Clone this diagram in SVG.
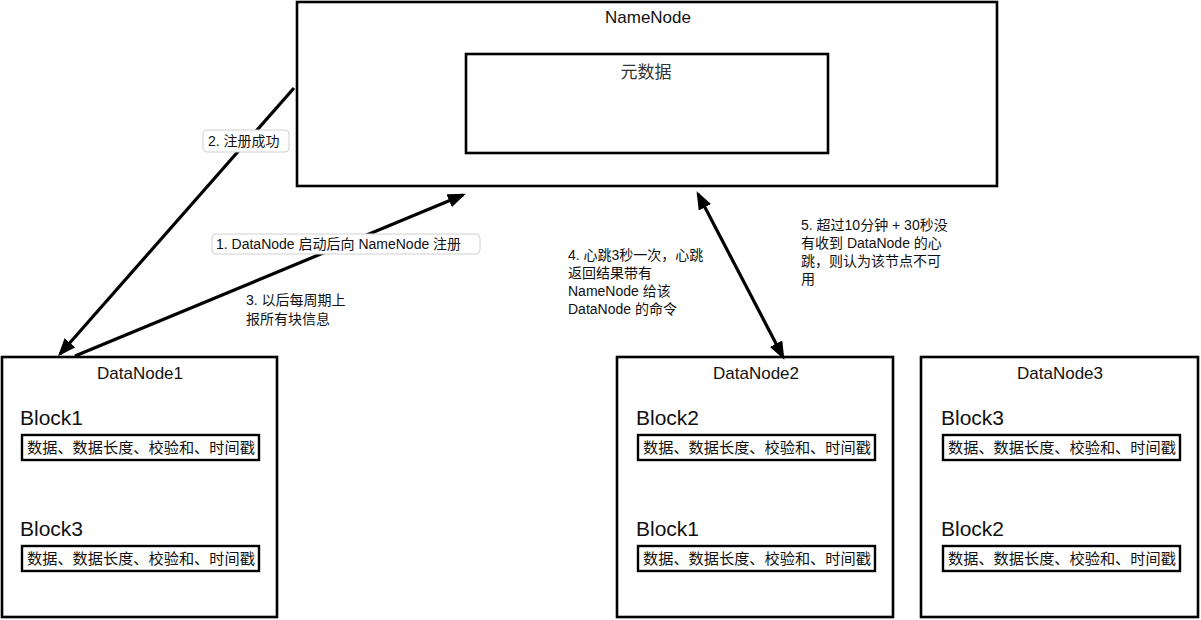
<svg xmlns="http://www.w3.org/2000/svg" width="1201" height="620" viewBox="0 0 1201 620">
<style>
.box{fill:#fff;stroke:#000;stroke-width:2.6}
.blk{fill:#fff;stroke:#000;stroke-width:2.4}
.title{font-family:"Liberation Sans","Noto Sans CJK SC",sans-serif;font-size:17px;fill:#111;text-anchor:middle}
.bl{font-family:"Liberation Sans","Noto Sans CJK SC",sans-serif;font-size:21px;fill:#111}
.bt{font-family:"Noto Sans CJK SC","Liberation Sans",sans-serif;font-size:15.2px;fill:#111}
.lbl{font-family:"Liberation Sans","Noto Sans CJK SC",sans-serif;font-size:14px;fill:#111}
.lblbg{fill:#fff;stroke:#d0d0d0;stroke-width:1}
.conn{stroke:#000;stroke-width:3.2;fill:none}
</style>
<defs>
<marker id="ah" markerUnits="userSpaceOnUse" markerWidth="18" markerHeight="14" refX="15" refY="7" orient="auto-start-reverse">
<path d="M0,0 L18,7 L0,14 z" fill="#000"/>
</marker>
</defs>
<g id="NameNode">
<rect class="box" x="297" y="2" width="700" height="184"/>
<text class="title" x="648" y="23">NameNode</text>
</g>
<g id="metadata">
<rect class="box" x="466" y="54" width="362" height="99"/>
<text x="646" y="78" font-family="Noto Sans CJK SC,sans-serif" font-size="17" fill="#333" text-anchor="middle">元数据</text>
</g>
<g id="DataNode1">
<rect class="box" x="2" y="357" width="275" height="260"/>
<text class="title" x="140" y="379">DataNode1</text>
<text class="bl" x="20" y="425">Block1</text>
<rect class="blk" x="22" y="435" width="237" height="25"/>
<text class="bt" x="27" y="453">数据、数据长度、校验和、时间戳</text>
<text class="bl" x="20" y="536">Block3</text>
<rect class="blk" x="22" y="546" width="237" height="25"/>
<text class="bt" x="27" y="564">数据、数据长度、校验和、时间戳</text>
</g>
<g id="DataNode2">
<rect class="box" x="617" y="357" width="276" height="260"/>
<text class="title" x="756" y="379">DataNode2</text>
<text class="bl" x="636" y="425">Block2</text>
<rect class="blk" x="638" y="435" width="237" height="25"/>
<text class="bt" x="643" y="453">数据、数据长度、校验和、时间戳</text>
<text class="bl" x="636" y="536">Block1</text>
<rect class="blk" x="638" y="546" width="237" height="25"/>
<text class="bt" x="643" y="564">数据、数据长度、校验和、时间戳</text>
</g>
<g id="DataNode3">
<rect class="box" x="921" y="357" width="277" height="260"/>
<text class="title" x="1060" y="379">DataNode3</text>
<text class="bl" x="941" y="425">Block3</text>
<rect class="blk" x="943" y="435" width="237" height="25"/>
<text class="bt" x="948" y="453">数据、数据长度、校验和、时间戳</text>
<text class="bl" x="941" y="536">Block2</text>
<rect class="blk" x="943" y="546" width="237" height="25"/>
<text class="bt" x="948" y="564">数据、数据长度、校验和、时间戳</text>
</g>
<g id="connectors">
<line class="conn" x1="294" y1="88" x2="60" y2="354" marker-end="url(#ah)"/>
<line class="conn" x1="75" y1="356" x2="463" y2="195" marker-end="url(#ah)"/>
<line class="conn" x1="698" y1="194" x2="783" y2="357" marker-start="url(#ah)" marker-end="url(#ah)"/>
</g>
<g id="labels">
<rect class="lblbg" x="203" y="130" width="86" height="22" rx="4"/>
<text class="lbl" x="208" y="146">2. 注册成功</text>
<rect class="lblbg" x="212" y="234" width="268" height="20" rx="4"/>
<text class="lbl" x="216" y="249">1. DataNode 启动后向 NameNode 注册</text>
<text class="lbl" x="246" y="305">3. 以后每周期上</text>
<text class="lbl" x="246" y="324">报所有块信息</text>
<text class="lbl" x="568" y="260">4. 心跳3秒一次，心跳</text>
<text class="lbl" x="568" y="278">返回结果带有</text>
<text class="lbl" x="568" y="296">NameNode 给该</text>
<text class="lbl" x="568" y="314">DataNode 的命令</text>
<text class="lbl" x="801" y="230">5. 超过10分钟 + 30秒没</text>
<text class="lbl" x="801" y="248">有收到 DataNode 的心</text>
<text class="lbl" x="801" y="266">跳，则认为该节点不可</text>
<text class="lbl" x="801" y="284">用</text>
</g>
</svg>
